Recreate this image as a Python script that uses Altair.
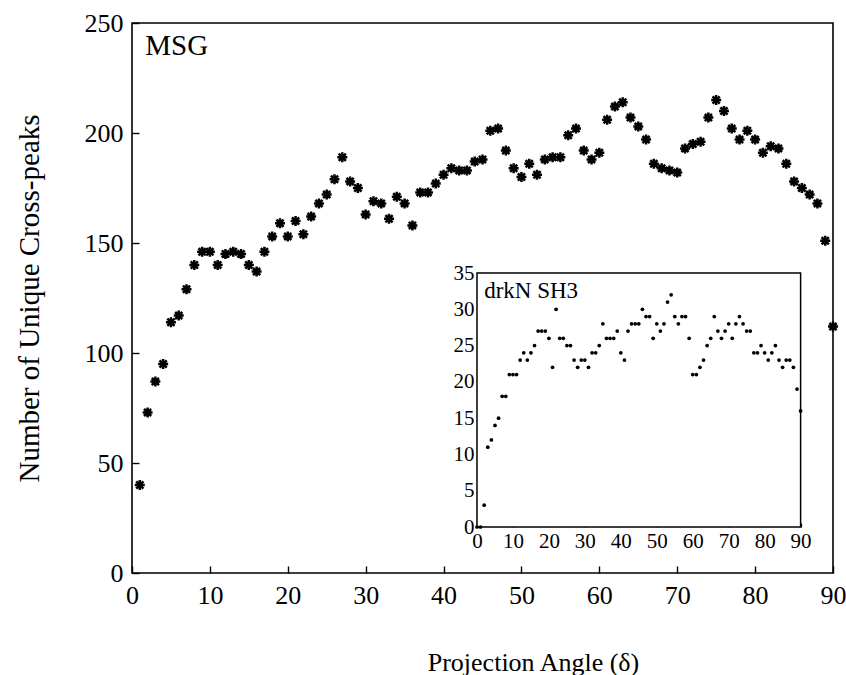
import altair as alt
import pandas as pd

# ---------------- data ----------------
msg_angles = list(range(1, 91))
msg_peaks = [40, 73, 87, 95, 114, 117, 129, 140, 146, 146,
             140, 145, 146, 145, 140, 137, 146, 153, 159, 153,
             160, 154, 162, 168, 172, 179, 189, 178, 175, 163,
             169, 168, 161, 171, 168, 158, 173, 173, 177, 181,
             184, 183, 183, 187, 188, 201, 202, 192, 184, 180,
             186, 181, 188, 189, 189, 199, 202, 192, 188, 191,
             206, 212, 214, 207, 203, 197, 186, 184, 183, 182,
             193, 195, 196, 207, 215, 210, 202, 197, 201, 197,
             191, 194, 193, 186, 178, 175, 172, 168, 151, 112]

sh3_angles = list(range(0, 91))
sh3_peaks = [0, 0, 3, 11, 12, 14, 15, 18, 18, 21,
             21, 21, 23, 24, 23, 24, 25, 27, 27, 27,
             26, 22, 30, 26, 26, 25, 25, 23, 22, 23,
             23, 22, 24, 24, 25, 28, 26, 26, 26, 27,
             24, 23, 27, 28, 28, 28, 30, 29, 29, 26,
             28, 27, 28, 31, 32, 29, 28, 29, 29, 26,
             21, 21, 22, 23, 25, 26, 29, 27, 26, 27,
             28, 26, 28, 29, 28, 27, 27, 24, 24, 25,
             24, 23, 24, 25, 23, 22, 23, 23, 22, 19, 16]

main_ticks_x = [0, 10, 20, 30, 40, 50, 60, 70, 80, 90]
main_ticks_y = [0, 50, 100, 150, 200, 250]
inset_ticks_x = [0, 10, 20, 30, 40, 50, 60, 70, 80, 90]
inset_ticks_y = [0, 5, 10, 15, 20, 25, 30, 35]
panel_labels = ["MSG", "drkN SH3"]

main_df = pd.DataFrame({"angle": msg_angles, "peaks": msg_peaks})
inset_df = pd.DataFrame({"angle": sh3_angles, "peaks": sh3_peaks})

# ---------------- style ----------------
SERIF = "Liberation Serif"
W, H = 701, 550
ASTERISK = ("M0,-1L0,1M-1,0L1,0M-0.72,-0.72L0.72,0.72M-0.72,0.72L0.72,-0.72")

main_x = alt.Scale(domain=[0, 90], nice=False, zero=False)
main_y = alt.Scale(domain=[0, 250], nice=False)
in_x = alt.Scale(domain=[0, 90], nice=False, zero=False, range=[345, 668.6])
in_y = alt.Scale(domain=[0, 35], nice=False, range=[504, 250])

common = dict(domain=False, grid=False, labelFont=SERIF, labelColor="black",
              tickColor="black", labelFlush=False, labelOverlap=False)

x_axis = alt.Axis(values=main_ticks_x, orient="bottom", offset=-7, tickSize=7,
                  tickWidth=1.4, labelFontSize=26, labelPadding=9,
                  title="Projection Angle (δ)", titleFont=SERIF, titleFontSize=26,
                  titleFontWeight="normal", titleColor="black",
                  titleX=401, titleY=104, titleAlign="center",
                  titleBaseline="alphabetic", **common)
y_axis = alt.Axis(values=main_ticks_y, orient="left", offset=-7, tickSize=7,
                  tickWidth=1.4, labelFontSize=26, labelPadding=9,
                  title="Number of Unique Cross-peaks", titleFont=SERIF,
                  titleFontSize=29, titleFontWeight="normal", titleColor="black",
                  titlePadding=40, **common)

ix_axis = alt.Axis(values=inset_ticks_x, orient="bottom", offset=-50, tickSize=4,
                   tickWidth=1.2, labelFontSize=21, labelPadding=3, title=None,
                   **common)
iy_axis = alt.Axis(values=inset_ticks_y, orient="left", offset=-349, tickSize=4,
                   tickWidth=1.2, labelFontSize=21, labelPadding=3, title=None,
                   **common)

# ---------------- main panel ----------------
main_pts = alt.Chart(main_df).mark_point(
    shape=ASTERISK, filled=False, size=100, strokeWidth=2.5, color="black", opacity=1
).encode(
    x=alt.X("angle:Q", scale=main_x, axis=x_axis),
    y=alt.Y("peaks:Q", scale=main_y, axis=y_axis),
)

main_label = alt.Chart(pd.DataFrame({"label": [panel_labels[0]]})).mark_text(
    align="left", baseline="alphabetic", font=SERIF, fontSize=29, color="black"
).encode(
    x=alt.XDatum(1.7, type="quantitative", scale=main_x),
    y=alt.YDatum(235.5, type="quantitative", scale=main_y),
    text="label:N",
)

main_layer = alt.layer(main_pts, main_label)

# ---------------- inset panel ----------------
inset_box = alt.Chart(pd.DataFrame({"k": [0]})).mark_rect(
    fill="white", stroke="black", strokeWidth=1.5
).encode(
    x=alt.XDatum(0, type="quantitative", scale=in_x, axis=ix_axis),
    x2=alt.X2Datum(90),
    y=alt.YDatum(0, type="quantitative", scale=in_y, axis=iy_axis),
    y2=alt.Y2Datum(35),
)

inset_pts = alt.Chart(inset_df).mark_circle(size=14, color="black", opacity=1).encode(
    x=alt.X("angle:Q", scale=in_x, axis=ix_axis),
    y=alt.Y("peaks:Q", scale=in_y, axis=iy_axis),
)

inset_label = alt.Chart(pd.DataFrame({"label": [panel_labels[1]]})).mark_text(
    align="left", baseline="alphabetic", font=SERIF, fontSize=23, color="black"
).encode(
    x=alt.XDatum(2.0, type="quantitative", scale=in_x, axis=ix_axis),
    y=alt.YDatum(31.5, type="quantitative", scale=in_y, axis=iy_axis),
    text="label:N",
)

inset_layer = alt.layer(inset_box, inset_pts, inset_label)

chart = alt.layer(main_layer, inset_layer).resolve_scale(
    x="independent", y="independent"
).properties(
    width=W, height=H,
    autosize=alt.AutoSizeParams(type="none"),
    padding={"left": 132, "top": 23, "right": 13, "bottom": 102},
    background="white",
).configure_view(stroke="black", strokeWidth=1.6)

chart.save("out.html", embed_options={"renderer": "svg", "actions": False})
